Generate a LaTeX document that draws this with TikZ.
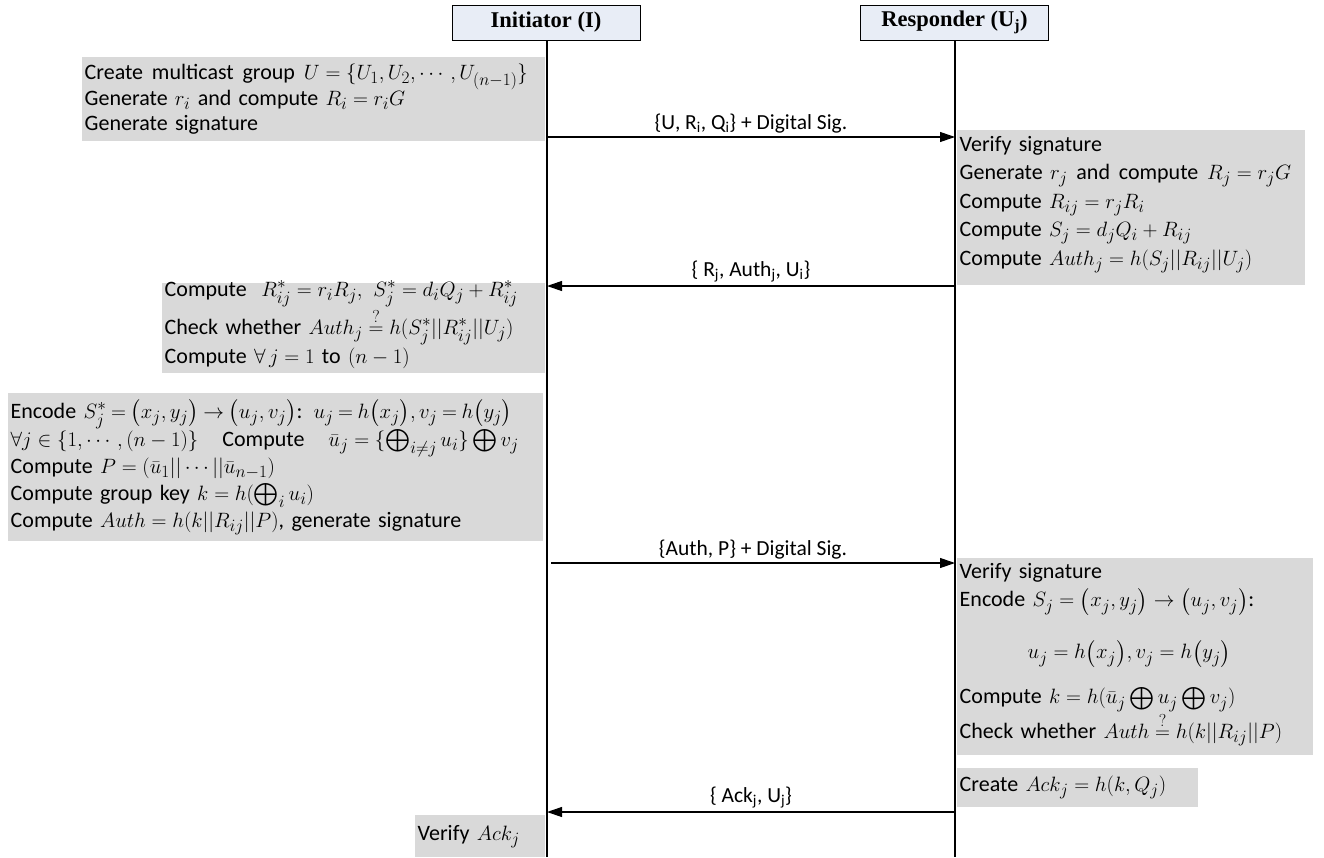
\documentclass[tikz,border=0pt]{standalone}
\usepackage{amsmath,amssymb}
\usepackage{fontspec}
\setmainfont{Carlito}
\newfontfamily\headfont{Liberation Serif}
\DeclareMathSizes{22}{22.5}{16}{12}
\usetikzlibrary{arrows.meta}
\definecolor{boxgrey}{HTML}{D9D9D9}
\definecolor{headblue}{HTML}{E8EDF6}
\begin{document}
\begin{tikzpicture}[x=1pt,y=-1pt,
  font=\fontsize{22}{25}\selectfont,
  head/.style={draw=black, line width=0.9pt, fill=headblue, minimum width=188pt, minimum height=35pt, inner sep=0pt,
    font=\headfont\bfseries\fontsize{22.5}{24}\selectfont},
  life/.style={line width=1.1pt},
  msg/.style={line width=1.1pt, -{Triangle[length=15pt,width=10pt]}},
  lbl/.style={midway, above=2pt, font=\fontsize{21.5}{22}\selectfont, inner sep=1pt},
  gbox/.style={fill=boxgrey, inner xsep=2.5pt, inner ysep=0pt, anchor=north west, align=left}]
\useasboundingbox (0,0) rectangle (1324,857);
% headers
\node[head] (ih) at (546,22.5) {Initiator (I)};
\node[head] (rh) at (954.5,22.5) {Responder (U\textsubscript{j})};
\coordinate (ib) at (547,857);
\coordinate (rb) at (955,857);
\draw[life] (ih.south -| ib) -- (ib);
\draw[life] (rh.south -| rb) -- (rb);
% boxes
\node[gbox, text width=458pt, minimum height=84pt, font=\fontsize{22}{25}\selectfont] (b1) at (82,57) {%
Create\hspace{0.4em}multicast\hspace{0.4em}group\hspace{0.4em}$U=\{U_1,U_2,\cdots,U_{(n-1)}\}$\\
Generate $r_i$ and compute $R_i=r_iG$\\
Generate signature};
\node[gbox, text width=343pt, minimum height=155pt, font=\fontsize{22}{28.5}\selectfont] (b2) at (957,130) {%
Verify signature\\
Generate $r_j$\hspace{0.4em}and\hspace{0.4em}compute\hspace{0.4em}$R_j=r_jG$\\
Compute $R_{ij}=r_jR_i$\\
Compute $S_j=d_jQ_i+R_{ij}$\\
Compute $Auth_j=h(S_j||R_{ij}||U_j)$\\[-14pt]\mbox{}};
\node[gbox, text width=378pt, minimum height=90pt, font=\fontsize{22}{29}\selectfont] (b3) at (162,283) {%
\mbox{}\\[-21pt]
Compute\ \ $R^*_{ij}=r_iR_j,\ S^*_j=d_iQ_j+R^*_{ij}$\\
Check whether $Auth_j\stackrel{?}{=}h(S^*_j||R^*_{ij}||U_j)$\\
Compute $\forall\, j=1$ to $(n-1)$};
\node[gbox, text width=530pt, minimum height=148pt, font=\fontsize{22}{27}\selectfont] (b4) at (8,393) {%
{\thickmuskip=4mu Encode $S^*_j=\bigl(x_j,y_j\bigr)\rightarrow\bigl(u_j,v_j\bigr)$: $u_j=h\bigl(x_j\bigr),v_j=h\bigl(y_j\bigr)$}\\
$\forall j\in\{1,\cdots,(n-1)\}$\hspace{24pt}Compute\hspace{24pt}$\bar u_j=\{\bigoplus_{i\neq j}u_i\}\bigoplus v_j$\\
Compute $P=(\bar u_1||\cdots||\bar u_{n-1})$\\
Compute group key $k=h(\bigoplus_i u_i)$\\
Compute $Auth=h(k||R_{ij}||P)$, generate signature};
\node[gbox, text width=351pt, minimum height=197pt, font=\fontsize{22}{28}\selectfont] (b5) at (957,558) {%
Verify signature\\
Encode $S_j=\bigl(x_j,y_j\bigr)\rightarrow\bigl(u_j,v_j\bigr)$:\\[24pt]
\hspace*{68pt}$u_j=h\bigl(x_j\bigr),v_j=h\bigl(y_j\bigr)$\\[17pt]
Compute $k=h(\bar u_j\bigoplus u_j\bigoplus v_j)$\\
Check whether $Auth\stackrel{?}{=}h(k||R_{ij}||P)$\\[-17pt]\mbox{}};
\node[gbox, text width=236pt, minimum height=39pt] (b6) at (957,768) {Create $Ack_j=h(k,Q_j)$};
\node[gbox, text width=125pt, minimum height=42pt] (b7) at (415,815) {Verify $Ack_j$};
% messages
\coordinate (m1s) at (547,137); \coordinate (m1e) at (955,137);
\coordinate (m2s) at (955,286); \coordinate (m2e) at (547,286);
\coordinate (m3s) at (551,563); \coordinate (m3e) at (955,563);
\coordinate (m4s) at (955,812); \coordinate (m4e) at (547,812);
\draw[msg] (m1s) -- (m1e) node[lbl] (l1) {\{U, R\textsubscript{i}, Q\textsubscript{i}\} + Digital Sig.};
\draw[msg] (m2s) -- (m2e) node[lbl] (l2) {\{ R\textsubscript{j}, Auth\textsubscript{j}, U\textsubscript{i}\}};
\draw[msg] (m3s) -- (m3e) node[lbl] (l3) {\{Auth, P\} + Digital Sig.};
\draw[msg] (m4s) -- (m4e) node[lbl] (l4) {\{ Ack\textsubscript{j}, U\textsubscript{j}\}};
\end{tikzpicture}
\end{document}
